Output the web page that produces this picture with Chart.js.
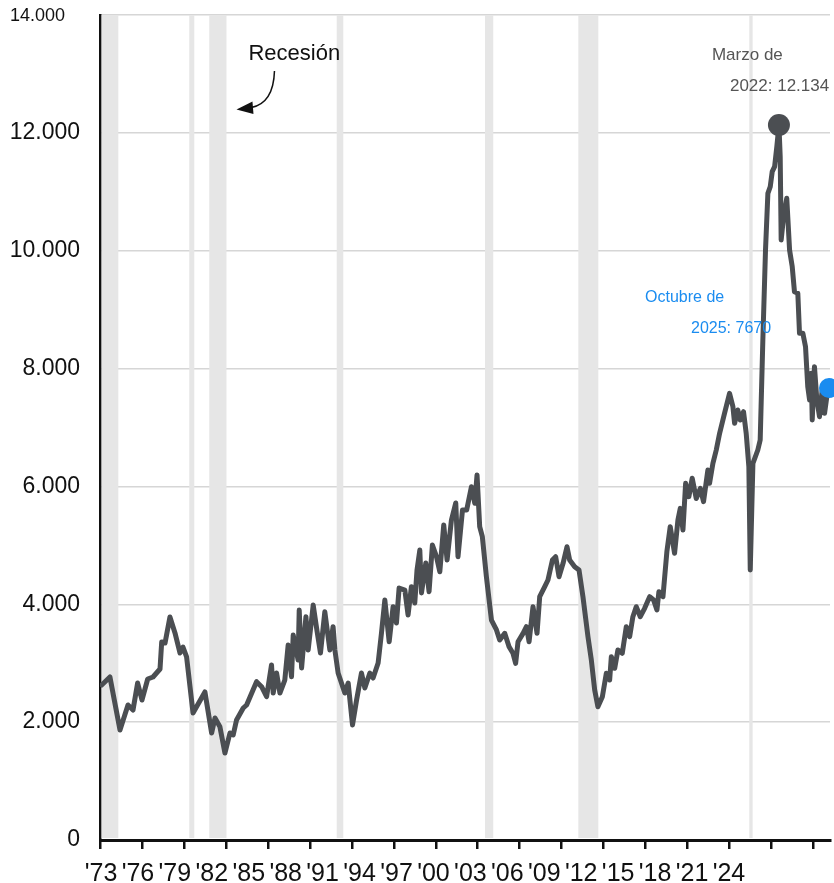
<!DOCTYPE html>
<html lang="es">
<head>
<meta charset="utf-8">
<title>Ofertas de empleo</title>
<script src="https://cdn.jsdelivr.net/npm/chart.js@4.4.1/dist/chart.umd.min.js"></script>
<style>
  html, body { margin: 0; padding: 0; background: #fff; }
  #grafico-wrap { width: 834px; height: 883px; }
</style>
</head>
<body>
<div id="grafico-wrap"><canvas id="grafico-ctx" width="834" height="883"></canvas></div>
<script>
// DATOS (miles, mensual aprox.)
const FECHAS = [
  1973.76, 1974.35, 1975.07, 1975.64, 1976.00, 1976.33, 1976.64, 1977.05, 1977.43, 1977.93,
  1978.05, 1978.29, 1978.64, 1979.00, 1979.36, 1979.57, 1979.83, 1980.29, 1981.14, 1981.62,
  1981.86, 1982.21, 1982.57, 1982.93, 1983.16, 1983.40, 1983.88, 1984.12, 1984.83, 1985.19,
  1985.55, 1985.90, 1986.02, 1986.26, 1986.50, 1986.85, 1987.09, 1987.33, 1987.45, 1987.80,
  1987.88, 1988.05, 1988.36, 1988.52, 1988.88, 1989.16, 1989.40, 1989.71, 1990.07, 1990.30,
  1990.43, 1990.66, 1991.14, 1991.38, 1991.69, 1991.98, 1992.33, 1992.57, 1992.93, 1993.16,
  1993.52, 1993.76, 1994.00, 1994.31, 1994.59, 1994.83, 1995.02, 1995.43, 1995.66, 1995.90,
  1996.14, 1996.30, 1996.50, 1996.62, 1996.93, 1997.16, 1997.40, 1997.69, 1997.93, 1998.21,
  1998.45, 1998.76, 1999.07, 1999.23, 1999.55, 1999.85, 2000.19, 2000.43, 2000.59, 2000.78,
  2000.97, 2001.26, 2001.62, 2001.98, 2002.21, 2002.57, 2002.88, 2003.16, 2003.35, 2003.52,
  2003.88, 2004.12, 2004.31, 2004.59, 2004.88, 2005.07, 2005.43, 2005.66, 2005.98, 2006.21,
  2006.45, 2006.74, 2007.02, 2007.21, 2007.57, 2007.88, 2008.16, 2008.52, 2008.76, 2009.00,
  2009.23, 2009.55, 2009.83, 2010.07, 2010.19, 2010.43, 2010.66, 2010.97, 2011.26, 2011.50,
  2011.73, 2011.97, 2012.26, 2012.57, 2012.93, 2013.21, 2013.45, 2013.59, 2013.88, 2014.16,
  2014.40, 2014.71, 2014.95, 2015.12, 2015.31, 2015.50, 2015.73, 2015.97, 2016.26, 2016.55,
  2016.78, 2017.09, 2017.21, 2017.45, 2017.69, 2017.93, 2018.28, 2018.64, 2018.88, 2019.00,
  2019.23, 2019.40, 2019.64, 2019.83, 2020.02, 2020.12, 2020.31, 2020.66, 2020.83, 2021.02,
  2021.21, 2021.38, 2021.55, 2021.69, 2021.86, 2022.02, 2022.17, 2022.26, 2022.33, 2022.50,
  2022.73, 2022.93, 2023.12, 2023.28, 2023.52, 2023.64, 2023.88, 2024.07, 2024.23, 2024.36,
  2024.48, 2024.55, 2024.71, 2024.88, 2025.07, 2025.26, 2025.43, 2025.66, 2025.75
];
const VALORES = [
  2630, 2766, 1867, 2291, 2206, 2664, 2376, 2732, 2766, 2902,
  3360, 3343, 3784, 3513, 3173, 3275, 3106, 2155, 2512, 1816,
  2070, 1923, 1476, 1816, 1782, 2036, 2240, 2291, 2687, 2602,
  2432, 2970, 2494, 2834, 2494, 2715, 3309, 2771, 3479, 3055,
  3903, 2919, 3789, 3224, 3988, 3535, 3173, 3874, 3224, 3620,
  3224, 2834, 2494, 2664, 1952, 2376, 2834, 2579, 2834, 2749,
  3004, 3513, 4073, 3365, 3959, 3682, 4276, 4242, 3818, 4299,
  4022, 4582, 4921, 4192, 4701, 4214, 5006, 4808, 4553, 5346,
  4752, 5430, 5719, 4808, 5600, 5600, 5996, 5713, 6194, 5317,
  5147, 4468, 3733, 3564, 3394, 3507, 3280, 3168, 2998, 3365,
  3507, 3620, 3365, 3959, 3507, 4129, 4299, 4412, 4752, 4808,
  4468, 4695, 4977, 4752, 4638, 4582, 4129, 3450, 3055, 2545,
  2262, 2432, 2829, 2715, 3111, 2914, 3224, 3168, 3620, 3450,
  3789, 3959, 3789, 3931, 4129, 4073, 3903, 4214, 4129, 4893,
  5317, 4865, 5430, 5628, 5261, 6053, 5826, 6138, 5795, 5968,
  5741, 6279, 6053, 6392, 6618, 6901, 7240, 7580, 7353, 7071,
  7297, 7127, 7268, 6901, 6335, 4582, 6392, 6618, 6788, 8485,
  10012, 10974, 11087, 11342, 11426, 11766, 12134, 11596, 10182, 10578,
  10890, 10012, 9729, 9305, 9277, 8598, 8598, 8372, 7693, 7467,
  7920, 7127, 8032, 7467, 7184, 7637, 7240, 7637, 7670
];

const ETIQUETAS_X = ["'73", "'76", "'79", "'82", "'85", "'88", "'91", "'94", "'97",
                     "'00", "'03", "'06", "'09", "'12", "'15", "'18", "'21", "'24"];
const MARCAS_Y = [0, 2000, 4000, 6000, 8000, 10000, 12000, 14000];
const ETIQUETAS_Y = ['0', '2.000', '4.000', '6.000', '8.000', '10.000', '12.000', '14.000'];

// recesiones (inicio / fin)
const RECESION_INICIO = [1973.76, 1980.02, 1981.45, 1990.56, 2001.16, 2007.83, 2020.05];
const RECESION_FIN = [1974.95, 1980.38, 1982.68, 1991.03, 2001.75, 2009.26, 2020.29];

// puntos destacados
const DESTACADO_FECHAS = [2022.17, 2025.75];
const DESTACADO_VALORES = [12134, 7670];
const DESTACADO_TEXTOS = [['Marzo de', '2022: 12.134'], ['Octubre de', '2025: 7670']];

const FUENTE = "'Liberation Sans', Arial, Helvetica, sans-serif";
const GRIS_LINEA = '#4b4e52';
const AZUL = '#1a8cf0';

// sin relleno automatico alrededor de los ejes
const sinRelleno = (scale) => {
  scale.paddingTop = 0;
  scale.paddingBottom = 0;
  scale.paddingLeft = 0;
  scale.paddingRight = 0;
};


// BANDAS DE RECESION
const bandasRecesion = {
  id: 'bandasRecesion',
  beforeDatasetsDraw(chart) {
    const {ctx, chartArea: area, scales: {x}} = chart;
    ctx.save();
    ctx.fillStyle = '#e6e6e6';
    RECESION_INICIO.forEach((ini, i) => {
      const x0 = Math.max(x.getPixelForValue(ini), area.left + 1.5);
      const x1 = x.getPixelForValue(RECESION_FIN[i]);
      ctx.fillRect(x0, area.top, x1 - x0, area.bottom - area.top - 2);
    });
    ctx.restore();
  }
};

// TEXTOS SOBRE EL GRAFICO
const anotaciones = {
  id: 'anotaciones',
  afterDatasetsDraw(chart) {
    const {ctx, scales: {x, y}} = chart;
    ctx.save();
    ctx.textBaseline = 'middle';
    ctx.textAlign = 'left';

    // etiqueta superior del eje y, mas pequena
    ctx.fillStyle = '#111';
    ctx.font = '18px ' + FUENTE;
    ctx.fillText(ETIQUETAS_Y[ETIQUETAS_Y.length - 1], 10, y.getPixelForValue(MARCAS_Y[MARCAS_Y.length - 1]) + 1);

    // "Recesión" con flecha hacia la banda de 1981-82
    const b = x.getPixelForValue(RECESION_FIN[2]);
    ctx.font = '22px ' + FUENTE;
    ctx.textBaseline = 'alphabetic';
    ctx.fillText('Recesión', b + 22, 60);
    ctx.strokeStyle = '#111';
    ctx.lineWidth = 1.5;
    ctx.beginPath();
    ctx.moveTo(b + 48, 71);
    ctx.quadraticCurveTo(b + 47, 103, b + 25, 107.5);
    ctx.stroke();
    ctx.beginPath();
    ctx.moveTo(b + 10, 109.5);
    ctx.lineTo(b + 26, 101.5);
    ctx.lineTo(b + 27, 114);
    ctx.closePath();
    ctx.fill();

    // textos de los puntos destacados
    const desplaz = [
      {dx1: -67, dy1: -70, dx2: -49, dy2: -39, color: '#555', size: 17},
      {dx1: -184, dy1: -90, dx2: -138, dy2: -59, color: AZUL, size: 16}
    ];
    ctx.textBaseline = 'middle';
    DESTACADO_FECHAS.forEach((f, i) => {
      const px = x.getPixelForValue(f);
      const py = y.getPixelForValue(DESTACADO_VALORES[i]);
      const d = desplaz[i];
      ctx.fillStyle = d.color;
      ctx.font = d.size + 'px ' + FUENTE;
      ctx.fillText(DESTACADO_TEXTOS[i][0], px + d.dx1, py + d.dy1);
      ctx.fillText(DESTACADO_TEXTOS[i][1], px + d.dx2, py + d.dy2);
    });
    ctx.restore();
  }
};


// CHART INITIALIZE
const grafico_ctx = document.getElementById('grafico-ctx');

new Chart(grafico_ctx, {
  type: 'line',
  data: {
    datasets: [{
      label: 'Destacados',
      data: DESTACADO_FECHAS.map((f, i) => ({x: f, y: DESTACADO_VALORES[i]})),
      showLine: false,
      pointRadius: [11, 10],
      pointHoverRadius: [11, 10],
      pointBackgroundColor: [GRIS_LINEA, AZUL],
      pointBorderWidth: 0,
      clip: false,
      order: 0
    }, {
      label: 'Vacantes',
      data: FECHAS.map((f, i) => ({x: f, y: VALORES[i]})),
      borderColor: GRIS_LINEA,
      borderWidth: 5,
      borderJoinStyle: 'round',
      borderCapStyle: 'round',
      pointRadius: 0,
      tension: 0,
      fill: false,
      order: 1
    }]
  },
  options: {
    responsive: false,
    animation: false,
    events: [],
    layout: {
      autoPadding: false,
      padding: {top: 15, right: 4, left: 0, bottom: 0}
    },
    plugins: {
      legend: {display: false},
      tooltip: {enabled: false}
    },
    scales: {
      x: {
        type: 'linear',
        position: 'bottom',
        weight: 0,
        min: 1973.64,
        max: 2025.82,
        afterBuildTicks: (scale) => {
          const ticks = [];
          for (let v = scale.min; v <= scale.max; v += 3) ticks.push({value: v});
          scale.ticks = ticks;
        },
        afterFit: (scale) => { scale.height = 10; sinRelleno(scale); },
        grid: {
          drawOnChartArea: false,
          drawTicks: true,
          tickLength: 9,
          color: '#111',
          lineWidth: 2.5
        },
        border: {display: true, color: '#111', width: 3},
        ticks: {display: false}
      },
      xEtiquetas: {
        type: 'linear',
        position: 'bottom',
        weight: 1,
        min: -0.027,
        max: 19.735,
        afterBuildTicks: (scale) => {
          scale.ticks = ETIQUETAS_X.map((_, i) => ({value: i}));
        },
        afterFit: (scale) => { scale.height = 33; sinRelleno(scale); },
        grid: {display: false, drawTicks: false},
        border: {display: false},
        ticks: {
          autoSkip: false,
          maxRotation: 0,
          padding: 9,
          color: '#111',
          font: {size: 25, family: FUENTE},
          callback: (v, i) => ETIQUETAS_X[i]
        }
      },
      y: {
        min: 0,
        max: 14000,
        afterBuildTicks: (scale) => {
          scale.ticks = MARCAS_Y.map(v => ({value: v}));
        },
        afterFit: (scale) => { scale.width = 100; sinRelleno(scale); },
        grid: {
          color: (c) => c.tick && c.tick.value === 0 ? 'rgba(0,0,0,0)' : '#d6d6d6',
          lineWidth: 1.5,
          drawTicks: false
        },
        border: {color: '#111', width: 2.5},
        ticks: {
          padding: 20,
          color: '#111',
          font: {size: 23, family: FUENTE},
          callback: (v, i) => i === MARCAS_Y.length - 1 ? '' : ETIQUETAS_Y[i]
        }
      }
    }
  },
  plugins: [bandasRecesion, anotaciones]
});
</script>
</body>
</html>
